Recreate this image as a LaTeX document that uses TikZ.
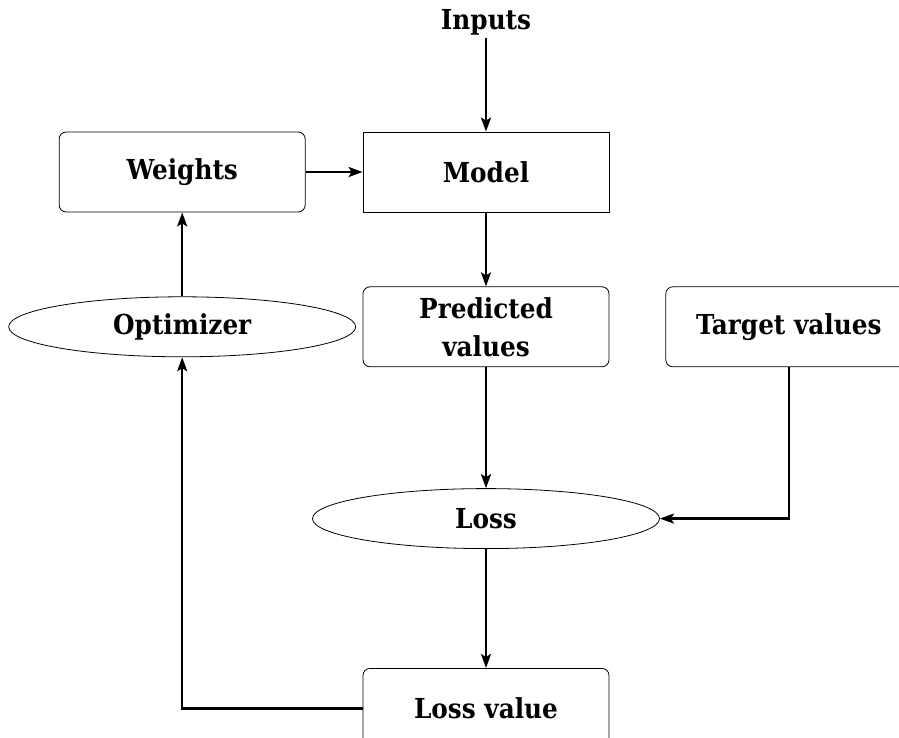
\documentclass[tikz,border=0pt]{standalone}
\usepackage{fontspec}
\setmainfont{DejaVu Serif Condensed}
\usetikzlibrary{shapes.geometric, arrows.meta, positioning, calc}

\begin{document}
\begin{tikzpicture}[
    x=1pt, y=1pt,
    node distance=74pt and 57pt,
    txt/.style={font=\bfseries\fontsize{27.5}{38}\selectfont, align=center},
    box/.style={rectangle, draw, line width=0.8pt, rounded corners=7pt, minimum width=246pt, minimum height=80pt, txt},
    sharpbox/.style={box, sharp corners},
    oval/.style={ellipse, draw, line width=0.8pt, minimum width=347pt, minimum height=60pt, inner sep=0pt, txt},
    arrow/.style={-{Stealth[length=14pt, width=10pt, inset=3pt]}, line width=2.4pt}
]
\useasboundingbox (0,0) rectangle (899,-738);
\clip (0,0) rectangle (899,-738);

% Forward pass
\node[txt] (inputs) at (486,-22) {Inputs};
\node[sharpbox] (model) at (486,-172) {Model};
\node[box, left=57pt of model] (weights) {Weights};
\node[box, below=of model] (pred) {Predicted\\values};
\node[box, right=56pt of pred] (target) {Target values};

% Loss
\node[oval, below=121pt of pred] (loss) {Loss};
\node[box, below=119pt of loss] (lossval) {Loss value};

% Optimizer
\node[oval] (optim) at (weights |- pred) {Optimizer};

% Arrows
\draw[arrow] (inputs) -- (model);
\draw[arrow] (weights) -- (model);
\draw[arrow] (model) -- (pred);
\draw[arrow] (pred) -- (loss);
\draw[arrow] (target.south) |- (loss.east);
\draw[arrow] (loss) -- (lossval);
\draw[arrow] (lossval.west) -| (optim.south);
\draw[arrow] (optim) -- (weights);

\end{tikzpicture}
\end{document}
